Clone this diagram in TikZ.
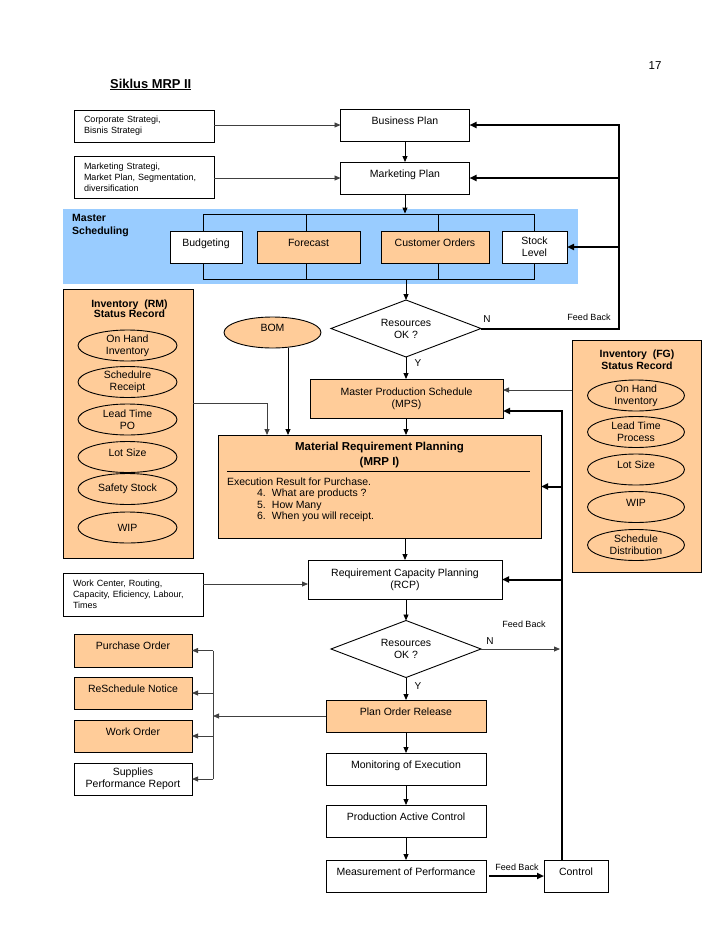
\documentclass[tikz,border=0pt]{standalone}
\usepackage{fontspec}
\setmainfont{Liberation Sans}
\usetikzlibrary{shapes.geometric,arrows.meta}
\definecolor{mrporange}{HTML}{FFCC99}
\definecolor{msblue}{HTML}{99CCFF}
\begin{document}
\begin{tikzpicture}[x=1pt,y=-1pt,
  base/.style={font=\fontsize{10.5}{12}\selectfont, inner sep=0pt, outer sep=0pt, align=center},
  box/.style={base, rectangle, draw=black, line width=0.9pt, fill=white},
  obox/.style={box, fill=mrporange},
  raised/.style={text height=7.5pt, text depth=9pt},
  oval/.style={base, ellipse, draw=black, line width=0.9pt, fill=mrporange, minimum width=97pt, minimum height=31pt},
  decision/.style={base, diamond, aspect=2.6, draw=black, line width=0.9pt, fill=white, minimum width=150pt, minimum height=57pt},
  smalltext/.style={font=\fontsize{9}{11}\selectfont},
  note/.style={font=\fontsize{9}{11}\selectfont, inner sep=0pt},
  yn/.style={font=\fontsize{10}{12}\selectfont, inner sep=0pt},
  conn/.style={draw=black!75, line width=0.8pt, -{Triangle[length=6pt,width=5pt]}},
  bconn/.style={draw=black, line width=0.9pt, -{Triangle[length=6pt,width=5pt]}},
  tconn/.style={draw=black, line width=2pt, -{Triangle[length=7pt,width=6pt]}},
  plainline/.style={draw=black!75, line width=0.8pt},
  frameline/.style={draw=black, line width=0.9pt},
  titlebold/.style={base, font=\bfseries\fontsize{10.5}{#1}\selectfont, anchor=north}
]
\useasboundingbox (0,0) rectangle (728,943);

% header
\node[font=\fontsize{11.5}{13}\selectfont, inner sep=0pt] (pgnum) at (655,66) {17};
\node[font=\bfseries\fontsize{12.9}{15}\selectfont, inner sep=0pt, anchor=base west] (title) at (110,88) {\underline{Siklus MRP II}};

% top plans
\node[box, smalltext, text width=120pt, align=left, minimum width=140pt, minimum height=32pt] (corp) at (144,126) {Corporate Strategi,\\Bisnis Strategi};
\node[box, raised, minimum width=129pt, minimum height=32pt] (bp) at (405,125) {Business Plan};
\node[box, smalltext, text width=120pt, align=left, minimum width=140pt, minimum height=42pt] (mstrat) at (144,177) {Marketing Strategi,\\Market Plan, Segmentation,\\diversification};
\node[box, raised, minimum width=129pt, minimum height=32pt] (mp) at (405,178) {Marketing Plan};

% master scheduling band
\node[fill=msblue, inner sep=0pt, minimum width=515pt, minimum height=75pt] (band) at (320.5,246.5) {};
\node[font=\bfseries\fontsize{10.5}{13.4}\selectfont, inner sep=0pt, align=left, anchor=north west] (mslabel) at (72,214) {Master\\Scheduling};
\node[draw=black, line width=0.9pt, inner sep=0pt, minimum width=331pt, minimum height=65pt] (frame) at (368.5,246.5) {};
\draw[frameline] (306,214) -- (306,279);
\draw[frameline] (438,214) -- (438,279);
\node[box, raised, minimum width=72pt, minimum height=32pt] (budg) at (206,247) {Budgeting};
\node[obox, raised, minimum width=103pt, minimum height=32pt] (fore) at (308.5,247) {Forecast};
\node[obox, raised, minimum width=108pt, minimum height=32pt] (cust) at (435,247) {Customer Orders};
\node[box, minimum width=65pt, minimum height=32pt] (stock) at (534.5,247) {Stock\\Level};

% first decision
\node[decision] (dia1) at (406,328.5) {Resources\\OK ?};
\node[yn] (n1) at (487,319) {N};
\node[yn] (y1) at (418,363) {Y};
\node[note] (fb1) at (589,317) {Feed Back};

% BOM and RM inventory
\node[oval, raised] (bom) at (272.5,332.5) {BOM};
\node[obox, minimum width=130pt, minimum height=269pt] (rm) at (128,423.5) {};
\node[titlebold=10.8] (rmtitle) at (129.5,299.5) {Inventory\ \ (RM)\\Status Record};
\node[oval, minimum width=99pt] (rm1) at (127.5,345.5) {On Hand\\Inventory};
\node[oval, minimum width=99pt] (rm2) at (127.5,382) {Schedulre\\Receipt};
\node[oval, minimum width=99pt] (rm3) at (127.5,419.5) {Lead Time\\PO};
\node[oval, raised, minimum width=99pt] (rm4) at (127.5,457) {Lot Size};
\node[oval, minimum width=99pt] (rm5) at (127.5,489) {Safety Stock};
\node[oval, minimum width=99pt] (rm6) at (127.5,527.5) {WIP};

% MPS and MRP
\node[obox, minimum width=193pt, minimum height=39pt] (mps) at (406.5,398.5) {Master Production Schedule\\(MPS)};
\node[obox, minimum width=323pt, minimum height=103pt] (mrp) at (379.5,486.5) {};
\node[base, font=\bfseries\fontsize{11.5}{15}\selectfont, anchor=north] (mrptitle) at (379.5,442.5) {Material Requirement Planning\\(MRP I)};
\draw[draw=black, line width=0.8pt] (227,471) -- (530,471);
\node[base, font=\fontsize{10.5}{11.3}\selectfont, align=left, anchor=north west] (mrpbody) at (227,478) {Execution Result for Purchase.\\\hspace*{30pt}\makebox[15pt][l]{4.}What are products ?\\\hspace*{30pt}\makebox[15pt][l]{5.}How Many\\\hspace*{30pt}\makebox[15pt][l]{6.}When you will receipt.};

% FG inventory
\node[obox, minimum width=129pt, minimum height=232pt] (fg) at (636.5,456) {};
\node[titlebold=12.5] (fgtitle) at (637,349.5) {Inventory\ \ (FG)\\Status Record};
\node[oval] (fg1) at (636,395.5) {On Hand\\Inventory};
\node[oval] (fg2) at (636,432) {Lead Time\\Process};
\node[oval, raised] (fg3) at (636,469.5) {Lot Size};
\node[oval, raised] (fg4) at (636,507) {WIP};
\node[oval] (fg5) at (636,545) {Schedule\\Distribution};

% RCP
\node[box, minimum width=194pt, minimum height=39pt] (rcp) at (405,579.5) {Requirement Capacity Planning\\(RCP)};
\node[box, smalltext, text width=120pt, align=left, minimum width=140pt, minimum height=43pt] (wc) at (133,594.5) {Work Center, Routing,\\\makebox[120pt][s]{Capacity, Eficiency, Labour,}\\Times};

% second decision
\node[decision] (dia2) at (406,649) {Resources\\OK ?};
\node[yn] (n2) at (490,641) {N};
\node[yn] (y2) at (418,686) {Y};
\node[note] (fb2) at (524,624) {Feed Back};

% execution chain
\node[obox, raised, minimum width=160pt, minimum height=32pt] (por) at (406,716) {Plan Order Release};
\node[box, raised, minimum width=160pt, minimum height=32pt] (mon) at (406,769) {Monitoring of Execution};
\node[box, raised, minimum width=160pt, minimum height=32pt] (pac) at (406,821) {Production Active Control};
\node[box, raised, minimum width=160pt, minimum height=32pt] (mop) at (406,876) {Measurement of Performance};
\node[box, raised, minimum width=64pt, minimum height=32pt] (ctl) at (576,876) {Control};
\node[note] (fb3) at (517,867) {Feed Back};

% outputs
\node[obox, raised, minimum width=118pt, minimum height=33pt] (po) at (133,650.5) {Purchase Order};
\node[obox, raised, minimum width=118pt, minimum height=32pt] (rs) at (133,693) {ReSchedule Notice};
\node[obox, raised, minimum width=118pt, minimum height=32pt] (wo) at (133,736) {Work Order};
\node[box, minimum width=118pt, minimum height=32pt] (spr) at (133,779) {Supplies\\Performance Report};

% connectors
\draw[conn] (corp.east |- bp.west) -- (bp.west);
\draw[conn] (mstrat.east |- mp.west) -- (mp.west);
\draw[bconn] (bp) -- (mp);
\draw[bconn] (mp.south) -- (mp.south |- frame.north);
\draw[bconn] (dia1.north |- frame.south) -- (dia1.north);

\coordinate (fbk) at (619,328.5);
\draw[tconn] (dia1.east) -- (fbk) -- (fbk |- bp.east) -- (bp.east);
\draw[tconn] (fbk |- mp.east) -- (mp.east);
\draw[tconn] (fbk |- stock.east) -- (stock.east);

\draw[bconn] (dia1.south) -- (dia1.south |- mps.north);
\draw[bconn] (dia1.south |- mps.south) -- (dia1.south |- mrp.north);
\coordinate (bomk) at (288,400);
\draw[bconn] (bom.south -| bomk) -- (bomk |- mrp.north);
\coordinate (rmk) at (267,403);
\draw[conn] (rm.east |- rmk) -- (rmk) -- (rmk |- mrp.north);
\coordinate (fgk) at (572,390);
\draw[conn] (fg.west |- fgk) -- (mps.east |- fgk);

\coordinate (ctk) at (561.5,411);
\draw[tconn] (ctl.north -| ctk) -- (ctk) -- (mps.east |- ctk);
\draw[tconn] (ctk |- mrp.east) -- (mrp.east);
\draw[tconn] (ctk |- rcp.east) -- (rcp.east);

\draw[bconn] (mrp.south -| rcp.north) -- (rcp.north);
\coordinate (wck) at (0,584);
\draw[conn] (wc.east |- wck) -- (rcp.west |- wck);
\draw[bconn] (rcp.south -| dia2.north) -- (dia2.north);
\draw[conn, shorten >=1.5pt] (dia2.east) -- (ctk |- dia2.east);
\draw[bconn] (dia2.south) -- (dia2.south |- por.north);

\coordinate (dk) at (213,717);
\draw[conn] (por.west) -- (dk |- por.west);
\draw[plainline] (dk |- po.east) -- (dk |- spr.east);
\draw[conn] (dk |- po.east) -- (po.east);
\draw[conn] (dk |- rs.east) -- (rs.east);
\draw[conn] (dk |- wo.east) -- (wo.east);
\draw[conn] (dk |- spr.east) -- (spr.east);

\draw[bconn] (por) -- (mon);
\draw[bconn] (mon) -- (pac);
\draw[bconn] (pac) -- (mop);
\draw[tconn, shorten <=3pt] (mop.east) -- (ctl.west);
\end{tikzpicture}
\end{document}
